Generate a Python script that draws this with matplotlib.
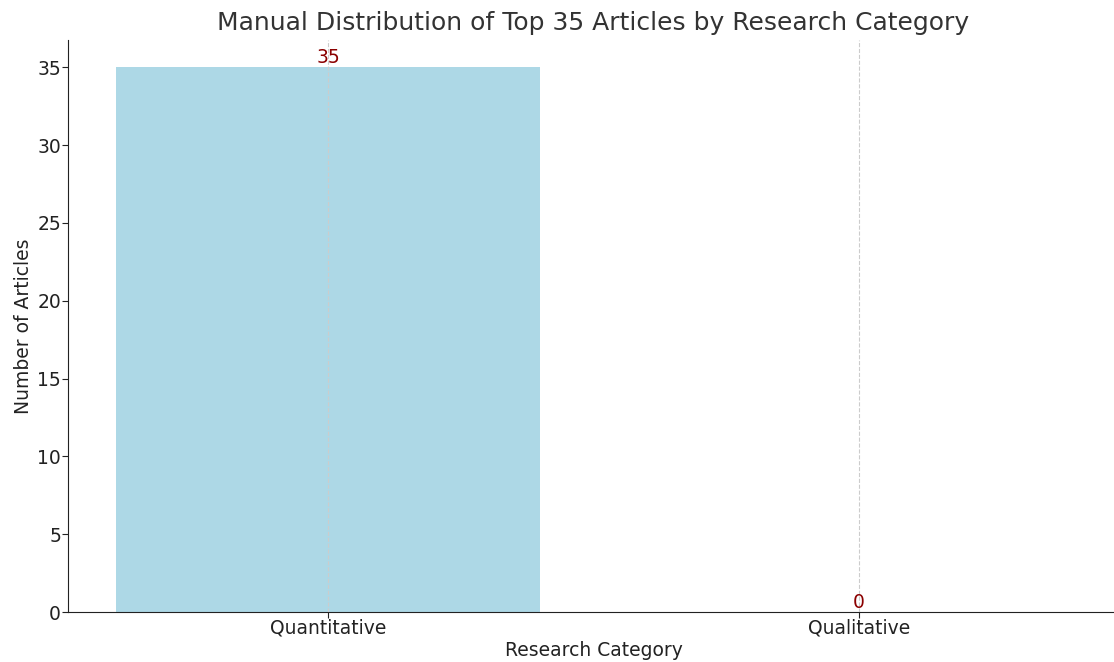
"""Bar chart: manual distribution of top articles by research category."""

import matplotlib.pyplot as plt

categories = ["Quantitative", "Qualitative"]
article_counts = [35, 0]

BAR_COLOR = "lightblue"
LABEL_COLOR = "darkred"
TEXT_COLOR = "#333333"

plt.rcParams["font.family"] = ["DejaVu Sans"]

fig = plt.figure(figsize=(11.14, 6.62), dpi=100)
ax = fig.add_axes([68 / 1114, 50 / 662, 1051 / 1114, 572 / 662])

positions = range(len(categories))
bars = ax.bar(positions, article_counts, color=BAR_COLOR, width=0.8)

for bar, value in zip(bars, article_counts):
    ax.text(
        bar.get_x() + bar.get_width() / 2,
        bar.get_height(),
        str(value),
        ha="center",
        va="bottom",
        color=LABEL_COLOR,
        fontsize=13.5,
    )

ax.set_xticks(list(positions))
ax.set_xticklabels(categories)
ax.set_title("Manual Distribution of Top 35 Articles by Research Category",
             fontsize=18, color=TEXT_COLOR, pad=7)
ax.set_xlabel("Research Category", fontsize=13.5, color="#222222", labelpad=2)
ax.set_ylabel("Number of Articles", fontsize=13.5, color="#222222", labelpad=3)
ax.tick_params(axis="both", labelsize=13.5, colors="#222222", length=4, pad=1)

ax.spines["top"].set_visible(False)
ax.spines["right"].set_visible(False)
ax.spines["left"].set_color("#222222")
ax.spines["bottom"].set_color("#222222")

ax.grid(axis="x", linestyle="--", color="#cccccc", linewidth=0.8)
ax.set_axisbelow(False)

fig.savefig("out.png", dpi=100)
